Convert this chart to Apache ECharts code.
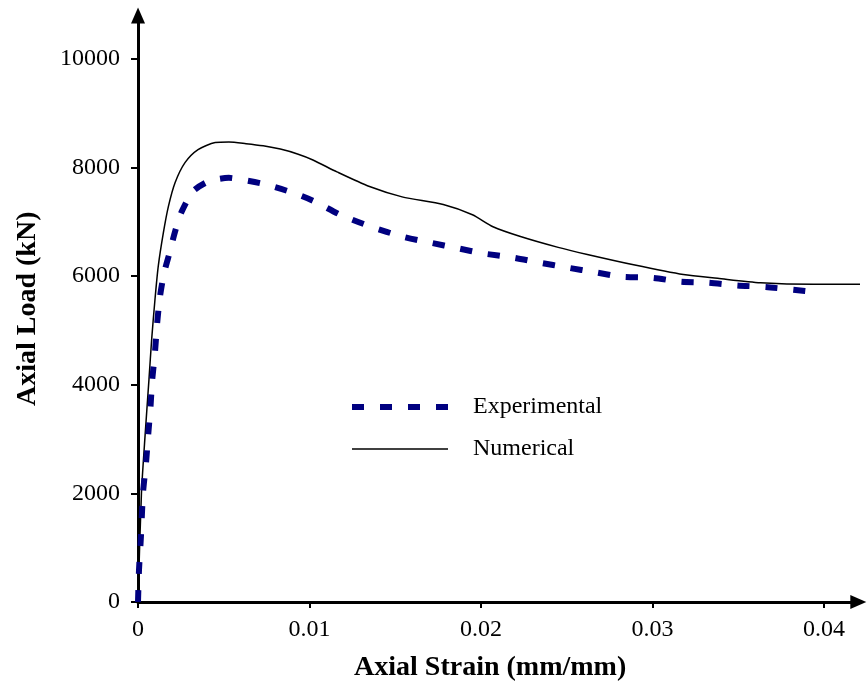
<!DOCTYPE html>
<html>
<head>
<meta charset="utf-8">
<script src="https://cdn.jsdelivr.net/npm/echarts@6/dist/echarts.min.js"></script>
<style>html,body{margin:0;padding:0;background:#fff;}#c{width:867px;height:687px;}</style>
</head>
<body>
<div id="c"></div>
<script>
// Data: [strain (mm/mm), load (kN)]
const experimental = [
  [0,0],[0.00006,600],[0.00017,1200],[0.00029,2000],[0.00047,2570],[0.0006,3100],[0.00073,3600],
  [0.00082,4060],[0.00099,4600],[0.00111,5110],[0.00128,5620],[0.00153,6070],[0.00186,6450],
  [0.00216,6820],[0.00255,7190],[0.0032,7560],[0.004,7730],[0.0047,7790],[0.0053,7810],
  [0.006,7780],[0.0073,7700],[0.009,7540],[0.0102,7390],[0.0118,7130],[0.0136,6910],
  [0.0154,6730],[0.017,6620],[0.0187,6510],[0.0201,6420],[0.0219,6340],[0.0234,6250],
  [0.025,6160],[0.0267,6070],[0.0282,5990],[0.03,5970],[0.0316,5900],[0.0332,5880],
  [0.0349,5830],[0.0366,5800],[0.0382,5750],[0.0397,5700]
];
const numerical = [
  [0,0],[0.0002,2000],[0.00042,3100],[0.00064,4100],[0.0008,4850],[0.00099,5570],[0.00118,6180],
  [0.00148,6800],[0.00177,7280],[0.00216,7720],[0.00274,8090],[0.0035,8330],[0.0045,8460],
  [0.0053,8470],[0.0063,8440],[0.0073,8400],[0.0083,8340],[0.0093,8250],[0.0102,8140],
  [0.0116,7920],[0.0135,7650],[0.0154,7460],[0.0178,7320],[0.0195,7130],[0.0207,6910],
  [0.0223,6730],[0.0245,6530],[0.0262,6400],[0.0289,6210],[0.0318,6030],[0.0338,5960],
  [0.0363,5880],[0.0394,5850],[0.0425,5850]
];
const xTicks = [0, 0.01, 0.02, 0.03, 0.04];
const yTicks = [0, 2000, 4000, 6000, 8000, 10000];
const seriesNames = ['Experimental', 'Numerical'];
const xTitle = 'Axial Strain (mm/mm)';
const yTitle = 'Axial Load (kN)';

const FONT = 'Liberation Serif';
const BLUE = '#000080';
const chart = echarts.init(document.getElementById('c'), null, {renderer: 'canvas'});
chart.setOption({
  animation: false,
  backgroundColor: '#ffffff',
  grid: {left: 138, top: 15.5, right: 8.7, bottom: 84, containLabel: false},
  legend: {
    orient: 'vertical',
    left: 344,
    top: 390,
    itemWidth: 96,
    itemHeight: 8,
    itemGap: 18,
    itemStyle: {opacity: 0},
    data: [
      {name: seriesNames[0], lineStyle: {width: 6, type: [12, 16], color: BLUE, cap: 'butt'}},
      {name: seriesNames[1], lineStyle: {width: 1.5, type: 'solid', color: '#000'}}
    ],
    textStyle: {fontFamily: FONT, fontSize: 24, color: '#000', padding: [0, 0, 0, 20], lineHeight: 24}
  },
  xAxis: {
    type: 'value',
    min: 0,
    max: 0.042,
    interval: 0.01,
    name: xTitle,
    nameLocation: 'middle',
    nameGap: 52,
    nameTextStyle: {fontFamily: FONT, fontSize: 28, fontWeight: 'bold', color: '#000', padding: [0, 16, 0, 0]},
    splitLine: {show: false},
    axisLine: {show: true, onZero: false, symbol: ['none', 'triangle'], symbolSize: [14, 16],
      lineStyle: {color: '#000', width: 3}},
    axisTick: {show: true, inside: false, length: 6, lineStyle: {color: '#000', width: 2}, customValues: xTicks},
    axisLabel: {fontFamily: FONT, fontSize: 24, color: '#000', margin: 16, customValues: xTicks,
      formatter: function (v) { return String(+v.toFixed(3)); }}
  },
  yAxis: {
    type: 'value',
    min: 0,
    max: 10800,
    interval: 2000,
    name: yTitle,
    nameLocation: 'middle',
    nameGap: 96,
    nameRotate: 90,
    nameTextStyle: {fontFamily: FONT, fontSize: 28, fontWeight: 'bold', color: '#000'},
    splitLine: {show: false},
    axisLine: {show: true, onZero: false, symbol: ['none', 'triangle'], symbolSize: [14, 16],
      lineStyle: {color: '#000', width: 3}},
    axisTick: {show: true, inside: false, length: 7, lineStyle: {color: '#000', width: 2}, customValues: yTicks},
    axisLabel: {fontFamily: FONT, fontSize: 24, color: '#000', margin: 18, customValues: yTicks,
      formatter: function (v) { return String(Math.round(v)); }}
  },
  series: [
    {
      name: seriesNames[0],
      type: 'line',
      data: experimental,
      showSymbol: false,
      symbol: 'none',
      smooth: 0.25,
      clip: false,
      color: BLUE,
      lineStyle: {color: BLUE, width: 6, type: [12, 16], cap: 'butt'},
      z: 3
    },
    {
      name: seriesNames[1],
      type: 'line',
      data: numerical,
      showSymbol: false,
      symbol: 'none',
      smooth: 0.25,
      clip: false,
      color: '#000',
      lineStyle: {color: '#000', width: 1.5, type: 'solid'},
      z: 2
    }
  ]
});
</script>
</body>
</html>
